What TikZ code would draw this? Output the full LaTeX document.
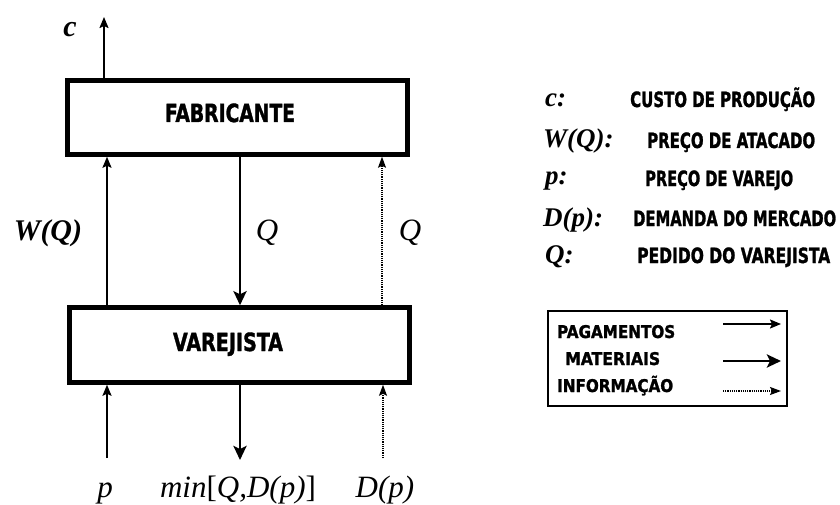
\documentclass[tikz,border=0pt]{standalone}
\usepackage{fontspec}
\setmainfont{Liberation Serif}
\newfontfamily\condf{DejaVu Sans Condensed Bold}[FakeBold=1.5]
\newcommand\fitw[2]{\resizebox{#1}{\height}{#2}}
\usetikzlibrary{arrows.meta}
\tikzset{
  box/.style={draw, line width=4.5pt, minimum width=340pt, inner sep=0pt},
  boxtxt/.style={font=\condf\fontsize{25}{25}\selectfont, inner sep=0pt, anchor=base},
  paylink/.style={line width=1.8pt, -{Stealth[length=11pt,width=9pt,inset=2pt]}},
  matlink/.style={line width=2.8pt, -{Stealth[length=14pt,width=13pt,inset=3pt]}},
  inflink/.style={line width=1.2pt, densely dotted, -{Stealth[length=11pt,width=8pt,inset=2pt]}},
  mlbl/.style={font=\fontsize{31}{31}\selectfont\itshape, inner sep=0pt, anchor=base},
  blbl/.style={font=\fontsize{30}{30}\selectfont\bfseries\itshape, inner sep=0pt, anchor=base},
  leglbl/.style={font=\fontsize{27}{27}\selectfont\bfseries\itshape, inner sep=0pt, anchor=base west},
  legtxt/.style={font=\condf\fontsize{21}{21}\selectfont, inner sep=0pt, anchor=base west},
  boxkey/.style={font=\condf\fontsize{17.5}{17.5}\selectfont, inner sep=0pt, anchor=base west},
  legbox/.style={draw, line width=2.5pt},
}
\begin{document}
\begin{tikzpicture}[x=1pt, y=-1pt]
\useasboundingbox (0,0) rectangle (840,505);
% boxes
\node[box, minimum height=74pt] (fab) at (237.5,117.5) {};
\node[boxtxt] (fabt) at (230,122) {\fitw{130pt}{FABRICANTE}};
\node[box, minimum height=75pt] (var) at (239.5,345) {};
\node[boxtxt] (vart) at (228,351) {\fitw{110pt}{VAREJISTA}};
% free ends
\coordinate (ctop) at (104,17);
\coordinate (pbot) at (107,458);
\coordinate (mbot) at (240,460);
\coordinate (dbot) at (383,458);
% connectors
\draw[paylink] (fab.north -| ctop) -- (ctop);
\draw[paylink] (var.north -| pbot) -- (fab.south -| pbot);
\draw[matlink] (fab.south -| mbot) -- (var.north -| mbot);
\draw[inflink] (var.north -| 382,0) -- (fab.south -| 382,0);
\draw[paylink] (pbot) -- (var.south -| pbot);
\draw[matlink] (var.south -| mbot) -- (mbot);
\draw[inflink] (dbot) -- (var.south -| dbot);
% labels
\node[blbl] (lc) at (70,37) {c};
\node[blbl] (lw) at (48,240) {W(Q)};
\node[mlbl] (lq1) at (267,240) {Q};
\node[mlbl] (lq2) at (410,240) {Q};
\node[mlbl] (lp) at (105,497) {p};
\node[mlbl] (lmin) at (238,497) {min{\upshape[}Q,D(p){\upshape]}};
\node[mlbl] (ld) at (385,497) {D(p)};
% legend
\node[leglbl] (k1) at (545,107) {c:};
\node[leglbl] (k2) at (543,148) {W(Q):};
\node[leglbl] (k3) at (545,185) {p:};
\node[leglbl] (k4) at (543,226) {D(p):};
\node[leglbl] (k5) at (545,263) {Q:};
\node[legtxt] (v1) at (630,107) {\fitw{185pt}{CUSTO DE PRODUÇÃO}};
\node[legtxt] (v2) at (647,148) {\fitw{168pt}{PREÇO DE ATACADO}};
\node[legtxt] (v3) at (645,186) {\fitw{148pt}{PREÇO DE VAREJO}};
\node[legtxt] (v4) at (633,226) {\fitw{203pt}{DEMANDA DO MERCADO}};
\node[legtxt] (v5) at (637,263) {\fitw{193pt}{PEDIDO DO VAREJISTA}};
\draw[legbox] (548,311) rectangle (787,406);
\node[boxkey] (g1) at (557,338) {\fitw{118pt}{PAGAMENTOS}};
\node[boxkey] (g2) at (565,365) {\fitw{95pt}{MATERIAIS}};
\node[boxkey] (g3) at (557,392) {\fitw{116pt}{INFORMAÇÃO}};
\coordinate (a1s) at (723,324); \coordinate (a1e) at (781,324);
\coordinate (a2s) at (723,361); \coordinate (a2e) at (781,361);
\coordinate (a3s) at (723,391); \coordinate (a3e) at (781,391);
\draw[paylink] (a1s) -- (a1e);
\draw[matlink] (a2s) -- (a2e);
\draw[inflink] (a3s) -- (a3e);
\end{tikzpicture}
\end{document}
